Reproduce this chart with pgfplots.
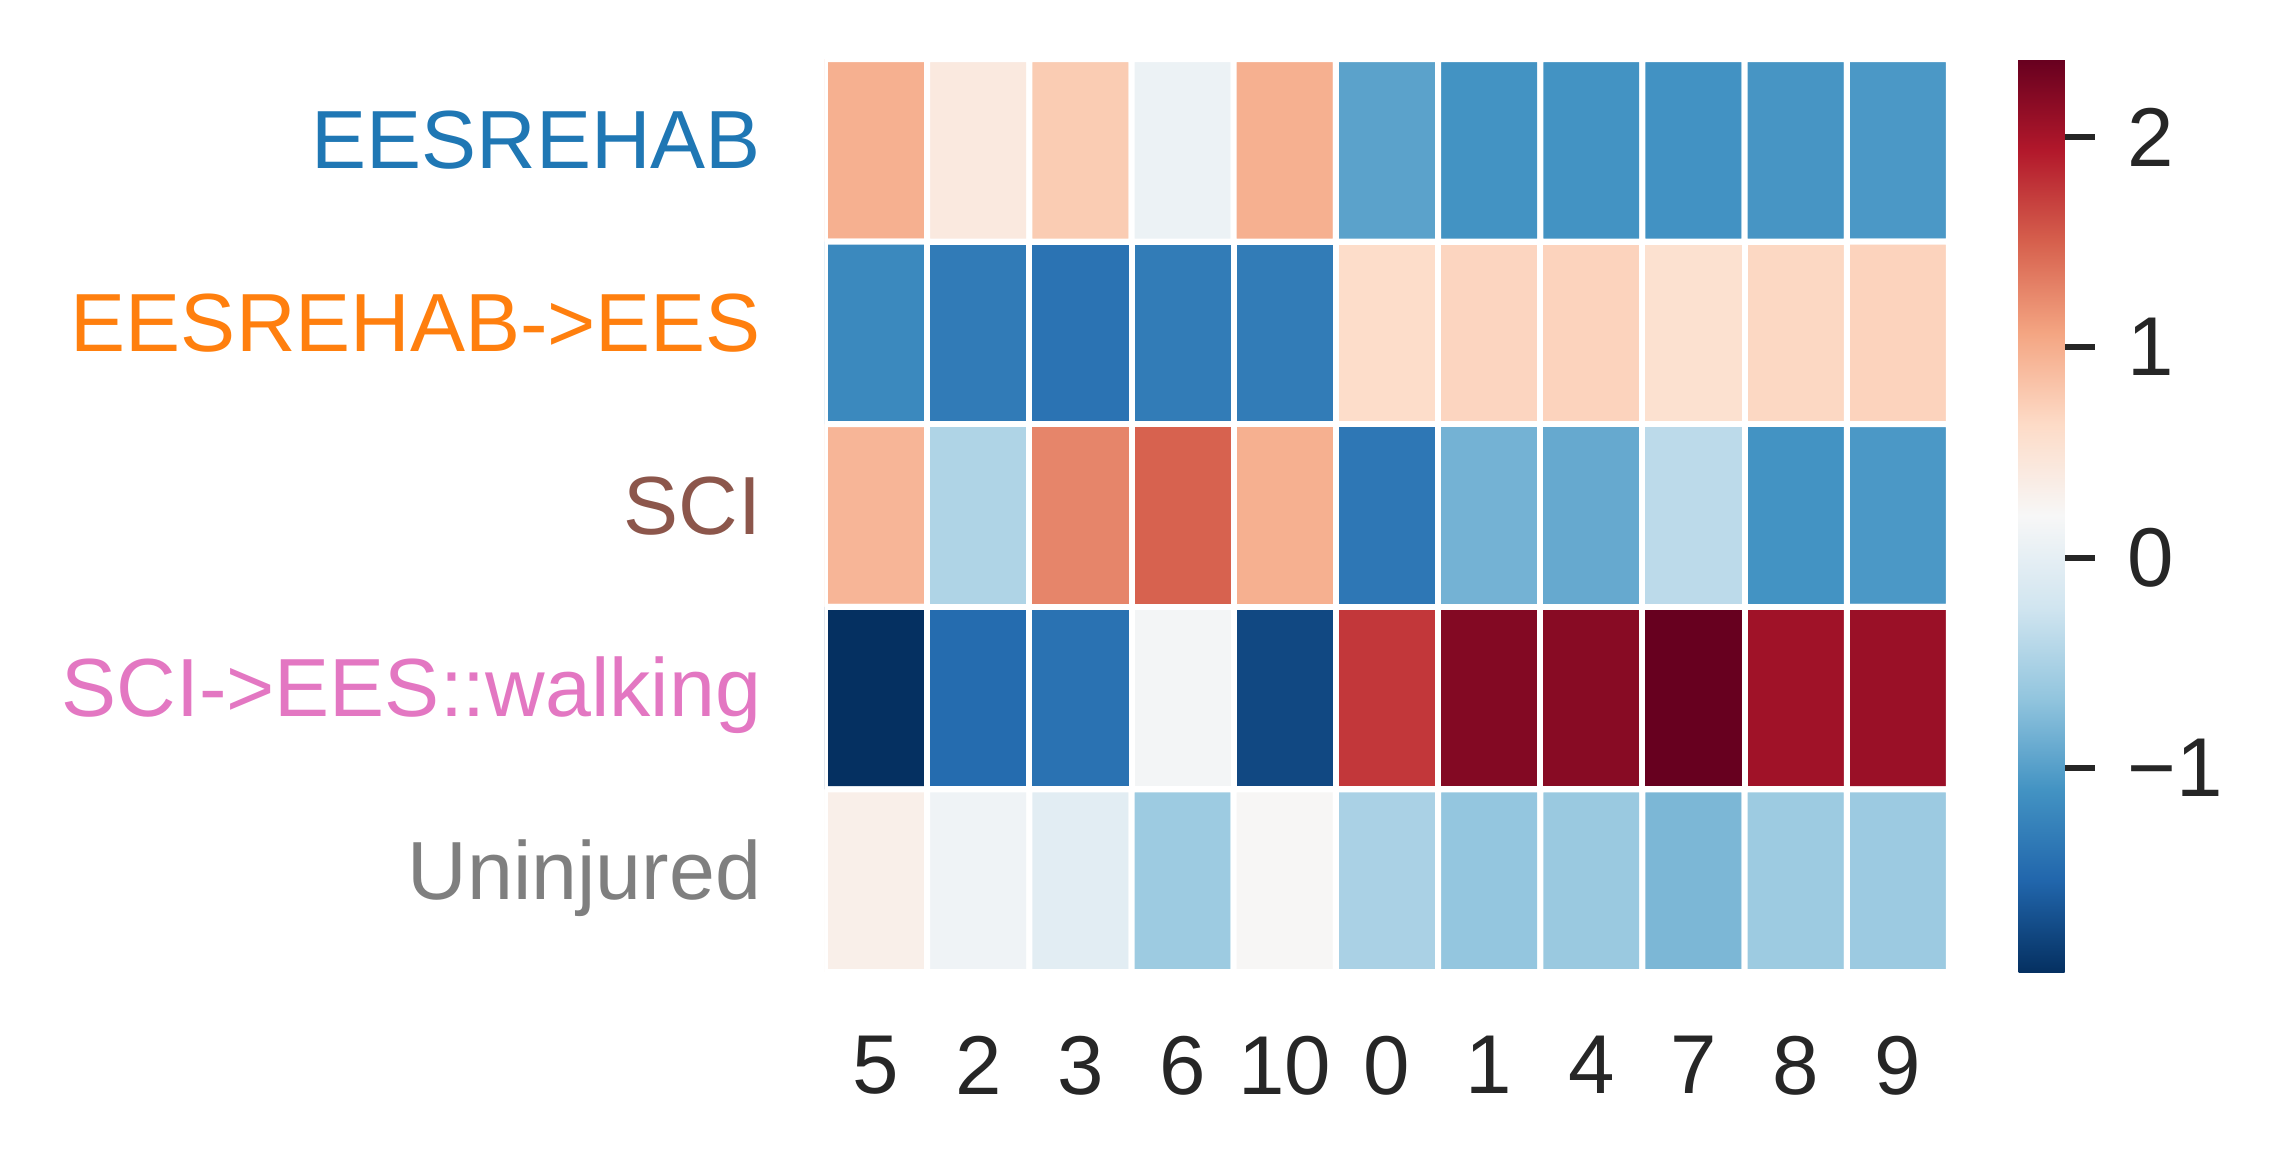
\documentclass[border=0pt]{standalone}
\usepackage{pgfplots}
\pgfplotsset{compat=1.18}
\usepackage{fontspec}
\setmainfont{Liberation Sans}
\definecolor{tabblue}{HTML}{1F77B4}
\definecolor{taborange}{HTML}{FF7F0E}
\definecolor{tabbrown}{HTML}{8C564B}
\definecolor{tabpink}{HTML}{E377C2}
\definecolor{tabgray}{HTML}{7F7F7F}
\definecolor{tickgray}{HTML}{262626}
\pgfplotstableread{
x y c
0 0 0.98
1 0 0.42
2 0 0.76
3 0 0.07
4 0 0.98
5 0 -0.97
6 0 -1.10
7 0 -1.10
8 0 -1.11
9 0 -1.08
10 0 -1.06
0 1 -1.20
1 1 -1.33
2 1 -1.41
3 1 -1.32
4 1 -1.32
5 1 0.61
6 1 0.68
7 1 0.70
8 1 0.55
9 1 0.66
10 1 0.70
0 2 0.94
1 2 -0.47
2 2 1.27
3 2 1.49
4 2 0.98
5 2 -1.37
6 2 -0.83
7 2 -0.91
8 2 -0.38
9 2 -1.10
10 2 -1.06
0 3 -1.97
1 3 -1.48
2 3 -1.42
3 3 0.16
4 3 -1.78
5 3 1.75
6 3 2.21
7 3 2.18
8 3 2.37
9 3 2.04
10 3 2.08
0 4 0.33
1 4 0.11
2 4 -0.04
3 4 -0.59
4 4 0.22
5 4 -0.50
6 4 -0.65
7 4 -0.61
8 4 -0.79
9 4 -0.59
10 4 -0.60
}\heat
\begin{document}
\begin{tikzpicture}
\path[use as bounding box] (-165pt,-38.6pt) rectangle (290.4pt,194.4pt);
\begin{axis}[
  at={(0pt,0pt)}, anchor=south west,
  scale only axis, width=224.8pt, height=182.6pt,
  xmin=-0.5, xmax=10.5, ymin=-0.5, ymax=4.5,
  y dir=reverse,
  axis line style={draw=none},
  xtick={0,1,2,3,4,5,6,7,8,9,10},
  xticklabels={5,2,3,6,10,0,1,4,7,8,9},
  ytick={0,1,2,3,4},
  yticklabels={{\color{tabblue}EESREHAB},{\color{taborange}EESREHAB->EES},{\color{tabbrown}SCI},{\color{tabpink}SCI->EES::walking},{\color{tabgray}Uninjured}},
  major tick length=0pt,
  tick label style={font=\fontsize{16.7}{20}\selectfont, text=tickgray, inner sep=0pt},
  xticklabel style={anchor=north, yshift=-12.6pt},
  yticklabel style={font=\fontsize{16.5}{20}\selectfont, anchor=base east, xshift=-12.6pt, yshift=-3.7pt},
  colormap={rdbur}{rgb255=(5,48,97) rgb255=(33,102,172) rgb255=(67,147,195) rgb255=(146,197,222) rgb255=(209,229,240) rgb255=(247,247,247) rgb255=(253,219,199) rgb255=(244,165,130) rgb255=(214,96,77) rgb255=(178,24,43) rgb255=(103,0,31)},
  point meta min=-1.97, point meta max=2.37,
  colorbar,
  colorbar style={
    at={(parent axis.north east)}, anchor=north west, xshift=5.4pt,
    width=9.2pt,
    axis line style={draw=none},
    ytick={-1,0,1,2},
    yticklabels={−1,0,1,2},
    ytick pos=right,
    tick align=outside,
    major tick length=6pt,
    ytick style={draw=tickgray, line width=1.2pt},
    yticklabel style={font=\fontsize{16.7}{20}\selectfont, text=tickgray, anchor=west, inner sep=0pt, xshift=6.4pt},
  },
]
\addplot[matrix plot, shader=faceted, faceted color=white, line width=1.2pt, mesh/cols=11, point meta=explicit] table[x=x, y=y, meta=c] {\heat};
\end{axis}
\end{tikzpicture}
\end{document}
